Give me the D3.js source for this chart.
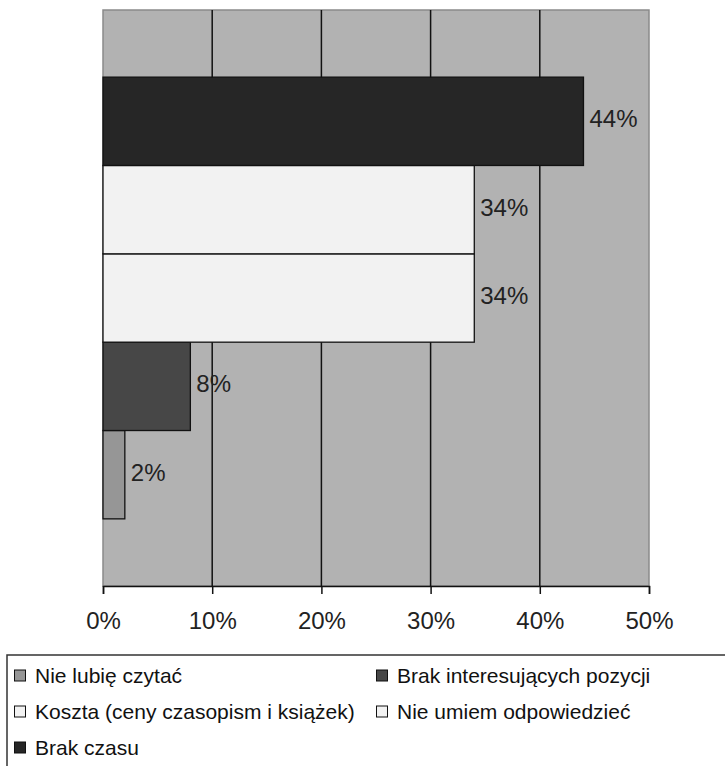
<!DOCTYPE html>
<html><head><meta charset="utf-8">
<script src="https://cdn.jsdelivr.net/npm/d3@7"></script>
<style>body{margin:0;background:#fff}svg{display:block}text{font-family:"Liberation Sans",Arial,sans-serif}</style>
</head><body>
<svg id="c" width="725" height="766"></svg>
<script>
const series = ["Nie lubię czytać","Brak interesujących pozycji","Koszta (ceny czasopism i książek)","Nie umiem odpowiedzieć","Brak czasu"];
const values = [0.02, 0.08, 0.34, 0.34, 0.44];
const labels = ["2%","8%","34%","34%","44%"];
const colors = ["#969696","#474747","#f2f2f2","#f2f2f2","#262626"];
const ticks = [0,0.1,0.2,0.3,0.4,0.5];
const tickLabels = ["0%","10%","20%","30%","40%","50%"];

const svg = d3.select("#c");
const L=103,R=649,T=10,B=586;
const x = d3.scaleLinear().domain([0,0.5]).range([L,R]);
const y = d3.scaleBand().domain(series.slice().reverse()).range([T,B]).paddingInner(0).paddingOuter(0.76);

svg.append("rect").attr("x",L).attr("y",T).attr("width",R-L).attr("height",B-T)
  .attr("fill","#b2b2b2").attr("stroke","#8a8a8a").attr("stroke-width",1.5);

// gridlines
svg.append("g").selectAll("line").data(ticks.slice(1,-1)).join("line")
  .attr("x1",d=>x(d)).attr("x2",d=>x(d)).attr("y1",T).attr("y2",B)
  .attr("stroke","#111").attr("stroke-width",1.5);

// bars
const data = series.map((s,i)=>({s,v:values[i],l:labels[i],c:colors[i]}));
svg.append("g").selectAll("rect").data(data).join("rect")
  .attr("x",x(0)).attr("y",d=>y(d.s)).attr("width",d=>x(d.v)-x(0)).attr("height",y.bandwidth())
  .attr("fill",d=>d.c).attr("stroke","#111").attr("stroke-width",1.3);

svg.append("g").selectAll("text").data(data).join("text")
  .attr("x",d=>x(d.v)+6).attr("y",d=>y(d.s)+y.bandwidth()/2+6)
  .attr("font-size",24).attr("fill","#222").text(d=>d.l);

// axis
const ax = svg.append("g").attr("transform",`translate(0,${B})`)
  .call(d3.axisBottom(x).tickValues(ticks).tickFormat((d,i)=>tickLabels[i]).tickSize(8).tickPadding(18));
ax.select(".domain").attr("stroke","#111").attr("stroke-width",1.5);
ax.selectAll(".tick line").attr("stroke","#111").attr("stroke-width",1.5);
ax.selectAll(".tick text").attr("font-size",24).attr("fill","#222").attr("font-family","'Liberation Sans',Arial,sans-serif");

// legend
svg.append("rect").attr("x",7).attr("y",655).attr("width",740).attr("height",140)
  .attr("fill","#fff").attr("stroke","#333").attr("stroke-width",1.5);
const pos = [[14,683],[376,683],[14,719],[376,719],[14,755]];
const lg = svg.append("g").selectAll("g").data(data).join("g")
  .attr("transform",(d,i)=>`translate(${pos[i][0]},${pos[i][1]})`);
lg.append("rect").attr("x",0.5).attr("y",-13).attr("width",11).attr("height",11)
  .attr("fill",d=>d.c).attr("stroke","#111").attr("stroke-width",1);
lg.append("text").attr("x",21).attr("y",0).attr("font-size",21).attr("fill","#111").text(d=>d.s);
</script>
</body></html>
